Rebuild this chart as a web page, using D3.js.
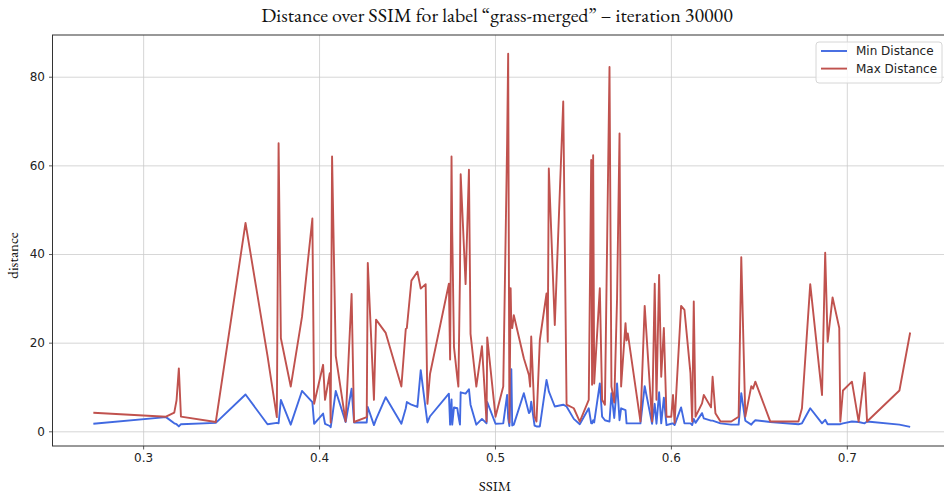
<!DOCTYPE html>
<html>
<head>
<meta charset="utf-8">
<script src="https://cdn.jsdelivr.net/npm/d3@7"></script>
<style>
  body { margin: 0; background: #fff; }
  svg { display: block; }
</style>
</head>
<body>
<div id="chart"></div>
<script>
// SSIM per sample, with the min / max distance at that SSIM
const ssim = [0.2717, 0.313, 0.3177, 0.319, 0.3203, 0.3215, 0.3413, 0.3582, 0.3707, 0.376, 0.377, 0.3783, 0.3839, 0.3903, 0.3962, 0.3972, 0.4023, 0.4034, 0.4061, 0.4066, 0.4074, 0.4095, 0.4151, 0.4185, 0.4199, 0.4271, 0.4277, 0.4312, 0.4324, 0.4379, 0.4468, 0.4493, 0.4499, 0.4525, 0.4559, 0.4578, 0.4606, 0.4616, 0.4631, 0.4738, 0.4745, 0.4753, 0.4757, 0.4767, 0.4786, 0.4792, 0.4801, 0.4805, 0.4833, 0.4852, 0.4861, 0.4894, 0.4926, 0.4952, 0.4956, 0.5003, 0.5047, 0.5069, 0.5075, 0.5082, 0.5089, 0.5093, 0.5098, 0.5107, 0.5164, 0.5193, 0.5200, 0.5206, 0.5225, 0.5236, 0.5255, 0.5293, 0.5300, 0.5306, 0.534, 0.5388, 0.5407, 0.5448, 0.5482, 0.5533, 0.5547, 0.5552, 0.5558, 0.5564, 0.5596, 0.5609, 0.5625, 0.5651, 0.5662, 0.5678, 0.5694, 0.5708, 0.5717, 0.5742, 0.5748, 0.5755, 0.5827, 0.5851, 0.5893, 0.5908, 0.5918, 0.5933, 0.5945, 0.5960, 0.5975, 0.6002, 0.6012, 0.6021, 0.6058, 0.6077, 0.6111, 0.6121, 0.6130, 0.6140, 0.6177, 0.6187, 0.6228, 0.6237, 0.6253, 0.6282, 0.6343, 0.6385, 0.6400, 0.6423, 0.6457, 0.6467, 0.6480, 0.6565, 0.6725, 0.6745, 0.6792, 0.6859, 0.6877, 0.6891, 0.6919, 0.6957, 0.6963, 0.6978, 0.7029, 0.7067, 0.7101, 0.7115, 0.7299, 0.7360];

const maxDist = [4.2, 3.3, 4.2, 7.0, 14.2, 3.3, 2.1, 47.0, 17.0, 3.2, 65.0, 21.0, 10.1, 25.8, 48.0, 6.2, 15.0, 7.1, 13.1, 2.0, 62.0, 17.0, 2.2, 31.0, 2.1, 3.2, 38.0, 7.1, 25.2, 22.2, 10.1, 23.1, 23.3, 34.0, 36.0, 32.2, 33.2, 6.2, 13.0, 33.3, 16.2, 62.0, 45.0, 19.0, 12.0, 10.1, 35.0, 58.0, 33.2, 59.0, 22.0, 10.1, 19.2, 2.2, 21.2, 3.3, 10.1, 65.0, 85.2, 2.0, 32.3, 23.5, 23.3, 26.2, 16.5, 12.7, 10.1, 21.4, 3.3, 2.2, 20.6, 31.1, 20.2, 59.3, 24.0, 74.4, 6.0, 5.2, 2.2, 7.1, 61.2, 10.5, 62.3, 10.8, 32.3, 7.1, 6.0, 82.2, 10.1, 6.5, 30.0, 67.2, 10.1, 24.4, 20.5, 22.1, 2.2, 28.3, 2.2, 33.3, 7.1, 35.3, 12.3, 23.3, 3.3, 3.3, 8.2, 1.9, 28.3, 27.4, 13.2, 2.2, 29.3, 3.3, 6.3, 8.2, 5.4, 12.3, 4.1, 2.2, 2.2, 3.3, 39.3, 3.3, 10.2, 9.6, 11.2, 2.2, 2.2, 5.2, 33.2, 8.2, 40.3, 20.2, 30.2, 23.3, 2.2, 9.2, 11.2, 2.2, 13.2, 2.2, 9.2, 22.3];

const minDist = [1.7, 3.2, 1.8, 1.6, 1.1, 1.6, 1.9, 8.3, 1.6, 1.9, 1.8, 7.1, 1.5, 9.1, 6.6, 1.7, 4.0, 1.7, 1.2, 0.9, 3.0, 9.1, 2.1, 9.6, 2.0, 2.0, 5.5, 1.4, 2.7, 7.7, 1.7, 5.2, 6.6, 6.0, 5.5, 13.8, 5.0, 2.0, 3.4, 8.5, 1.5, 7.2, 1.5, 5.4, 5.2, 3.5, 1.5, 8.8, 8.5, 9.5, 6.0, 1.5, 2.8, 1.8, 6.6, 1.7, 1.8, 8.2, 3.0, 1.2, 10.1, 14.0, 1.3, 1.5, 8.6, 4.1, 4.5, 6.7, 1.3, 1.1, 1.1, 11.6, 10.3, 9.0, 5.6, 6.0, 5.6, 2.8, 1.6, 5.2, 1.8, 1.8, 2.5, 2.0, 10.8, 3.3, 2.5, 2.2, 8.6, 3.0, 10.8, 2.5, 5.2, 4.8, 1.8, 1.8, 1.8, 10.2, 1.7, 6.2, 1.7, 8.8, 1.8, 7.6, 1.4, 1.7, 1.8, 1.4, 5.4, 1.8, 1.8, 1.4, 2.8, 1.9, 4.1, 2.9, 2.4, 2.4, 2.2, 1.8, 1.5, 1.5, 8.6, 2.4, 1.5, 2.0, 2.5, 2.1, 1.6, 1.8, 5.2, 1.8, 2.6, 1.6, 1.6, 1.6, 1.6, 1.8, 2.2, 2.1, 1.8, 2.2, 1.5, 1.0];

const xTicks = [0.3, 0.4, 0.5, 0.6, 0.7];
const yTicks = [0, 20, 40, 60, 80];
const seriesNames = ['Min Distance', 'Max Distance'];
const seriesColors = ['#4169e1', '#c0524e'];

const width = 944, height = 496;
const margin = { top: 35, right: -7, bottom: 50, left: 52.5 }; // right spine falls just off the canvas
const innerWidth = width - margin.left - margin.right;
const innerHeight = height - margin.top - margin.bottom;
const serif = '"EB Garamond", "Liberation Serif", serif';

const svg = d3.select('#chart').append('svg')
  .attr('width', width)
  .attr('height', height);

// matplotlib-style 5% padding round the data
const xExt = d3.extent(ssim);
const xPad = (xExt[1] - xExt[0]) * 0.05;
const yLo = d3.min(minDist), yHi = d3.max(maxDist);
const yPad = (yHi - yLo) * 0.05;

const xScale = d3.scaleLinear()
  .domain([xExt[0] - xPad, xExt[1] + xPad])
  .range([0, innerWidth]);
const yScale = d3.scaleLinear()
  .domain([yLo - yPad, yHi + yPad])
  .range([innerHeight, 0]);

const g = svg.append('g')
  .attr('transform', `translate(${margin.left},${margin.top})`);

// grid
g.append('g')
  .attr('class', 'grid')
  .attr('transform', `translate(0,${innerHeight})`)
  .call(d3.axisBottom(xScale).tickValues(xTicks).tickSize(-innerHeight).tickFormat(''));
g.append('g')
  .attr('class', 'grid')
  .call(d3.axisLeft(yScale).tickValues(yTicks).tickSize(-innerWidth).tickFormat(''));
g.selectAll('.grid path, .grid text').remove();
g.selectAll('.grid line').attr('stroke', '#cbcbcb').attr('stroke-width', 0.8);

// lines
const rows = ssim.map((s, i) => ({ s, lo: minDist[i], hi: maxDist[i] }));
const lineMin = d3.line().x(d => xScale(d.s)).y(d => yScale(d.lo));
const lineMax = d3.line().x(d => xScale(d.s)).y(d => yScale(d.hi));

g.append('path').datum(rows)
  .attr('d', lineMin)
  .attr('fill', 'none')
  .attr('stroke', seriesColors[0])
  .attr('stroke-width', 1.9)
  .attr('stroke-linejoin', 'round');
g.append('path').datum(rows)
  .attr('d', lineMax)
  .attr('fill', 'none')
  .attr('stroke', seriesColors[1])
  .attr('stroke-width', 1.9)
  .attr('stroke-linejoin', 'round');

// axes
const xAxis = g.append('g')
  .attr('transform', `translate(0,${innerHeight})`)
  .call(d3.axisBottom(xScale).tickValues(xTicks).tickSize(3.5).tickPadding(4).tickFormat(d3.format('.1f')));
const yAxis = g.append('g')
  .call(d3.axisLeft(yScale).tickValues(yTicks).tickSize(3.5).tickPadding(4).tickFormat(d3.format('d')));

[xAxis, yAxis].forEach(a => {
  a.select('.domain').remove();
  a.selectAll('line').attr('stroke', '#333').attr('stroke-width', 0.8);
  a.selectAll('text')
    .attr('fill', '#222')
    .style('font-family', '"DejaVu Sans", sans-serif')
    .style('font-size', '12px');
});

// spines
g.append('rect')
  .attr('x', 0).attr('y', 0)
  .attr('width', innerWidth).attr('height', innerHeight)
  .attr('fill', 'none')
  .attr('stroke', '#333')
  .attr('stroke-width', 1);

// labels
svg.append('text')
  .attr('x', 497).attr('y', 22)
  .attr('text-anchor', 'middle')
  .style('font-family', serif)
  .style('font-size', '20px')
  .attr('fill', '#111')
  .text('Distance over SSIM for label \u201cgrass-merged\u201d \u2013 iteration 30000');

svg.append('text')
  .attr('x', 495).attr('y', 491)
  .attr('text-anchor', 'middle')
  .style('font-family', serif)
  .style('font-size', '15px')
  .attr('fill', '#111')
  .text('SSIM');

svg.append('text')
  .attr('transform', `translate(18,${margin.top + innerHeight / 2 + 15}) rotate(-90)`)
  .attr('text-anchor', 'middle')
  .style('font-family', serif)
  .style('font-size', '15px')
  .attr('fill', '#111')
  .text('distance');

// legend
const legend = svg.append('g').attr('transform', 'translate(816,42)');
legend.append('rect')
  .attr('width', 126).attr('height', 41)
  .attr('rx', 3)
  .attr('fill', 'rgba(255,255,255,0.8)')
  .attr('stroke', '#d6d6d6');
seriesNames.forEach((name, i) => {
  const yy = 9 + i * 17.6;
  legend.append('line')
    .attr('x1', 5).attr('x2', 31)
    .attr('y1', yy).attr('y2', yy)
    .attr('stroke', seriesColors[i])
    .attr('stroke-width', 1.9);
  legend.append('text')
    .attr('x', 40).attr('y', yy + 4.3)
    .style('font-family', '"DejaVu Sans", sans-serif')
    .style('font-size', '12px')
    .attr('fill', '#222')
    .text(name);
});
</script>
</body>
</html>
